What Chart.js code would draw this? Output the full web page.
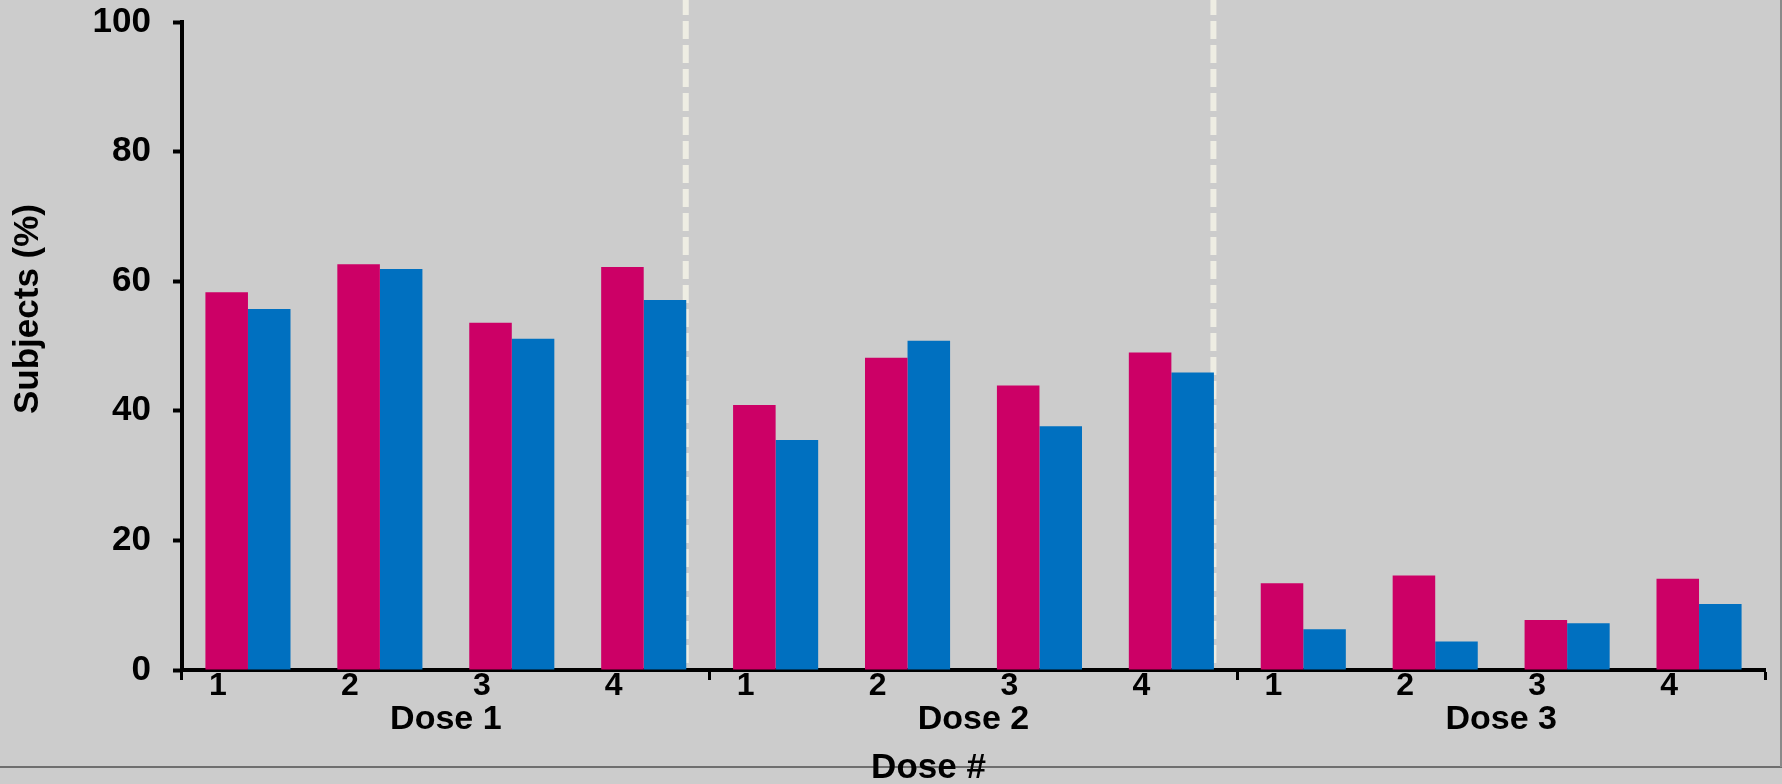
<!DOCTYPE html>
<html>
<head>
<meta charset="utf-8">
<script src="https://cdn.jsdelivr.net/npm/chart.js@4/dist/chart.umd.min.js"></script>
<style>
html, body { margin: 0; padding: 0; background: #cccccc; }
</style>
</head>
<body>
<canvas id="chart" width="1782" height="784"></canvas>
<script>
// chart values
var doseLabels = ['Dose 1', 'Dose 2', 'Dose 3'];
var visitLabels = ['1', '2', '3', '4', '1', '2', '3', '4', '1', '2', '3', '4'];
var pinkValues = [58.3, 62.6, 53.6, 62.2, 40.9, 48.2, 43.9, 49.0, 13.4, 14.6, 7.7, 14.1];
var blueValues = [55.7, 61.9, 51.1, 57.1, 35.5, 50.8, 37.6, 45.9, 6.3, 4.4, 7.2, 10.2];
var yTickValues = [0, 20, 40, 60, 80, 100];
var yTitle = 'Subjects (%)';
var xTitle = 'Dose #';

var FONT = '"Liberation Sans", Arial, sans-serif';

// grey page, bottom rule, right rule, group labels, titles, dashed dividers
var decorPlugin = {
    id: 'decor',
    beforeDraw: function(chart) {
        var c = chart.ctx;
        c.save();
        c.fillStyle = '#cccccc';
        c.fillRect(0, 0, chart.width, chart.height);
        c.restore();
    },
    beforeDatasetsDraw: function(chart) {
        // dashed dividers sit behind the last bar of dose 1 and dose 2
        var c = chart.ctx;
        var meta = chart.getDatasetMeta(1);
        var area = chart.chartArea;
        c.save();
        c.strokeStyle = '#eeede3';
        c.lineWidth = 6;
        c.setLineDash([18, 6]);
        c.lineDashOffset = 3;
        [3, 7].forEach(function(i) {
            var bar = meta.data[i];
            var x = bar.x + bar.width / 2 - 0.5;
            c.beginPath();
            c.moveTo(x, 0);
            c.lineTo(x, area.bottom - 2);
            c.stroke();
        });
        c.restore();
    },
    afterDraw: function(chart) {
        var c = chart.ctx;
        var xs = chart.scales.x;
        var area = chart.chartArea;
        c.save();
        // frame lines
        c.strokeStyle = '#6e6e6e';
        c.lineWidth = 2;
        c.beginPath();
        c.moveTo(0, 767);
        c.lineTo(chart.width, 767);
        c.stroke();
        c.strokeStyle = '#8a8a8a';
        c.beginPath();
        c.moveTo(chart.width - 1, 0);
        c.lineTo(chart.width - 1, 767);
        c.stroke();

        c.fillStyle = '#000';
        c.font = 'bold 34px ' + FONT;
        c.textAlign = 'center';
        c.textBaseline = 'middle';
        doseLabels.forEach(function(lbl, g) {
            var x = (xs.getPixelForValue(g * 4) + xs.getPixelForValue(g * 4 + 3)) / 2;
            c.fillText(lbl, x, area.bottom + 50);
        });
        c.font = 'bold 35px ' + FONT;
        c.fillText(xTitle, (area.left + area.right) / 2 - 45, area.bottom + 98);

        c.translate(28, (area.top + area.bottom) / 2 - 37);
        c.rotate(-Math.PI / 2);
        c.fillText(yTitle, 0, 0);
        c.restore();
    }
};

var ctx = document.getElementById('chart');

var myChart = new Chart(ctx, {
    type: 'bar',
    data: {
        labels: visitLabels,
        datasets: [
            { data: pinkValues, backgroundColor: '#cc0066', borderWidth: 0 },
            { data: blueValues, backgroundColor: '#0070c0', borderWidth: 0 }
        ]
    },
    options: {
        responsive: false,
        animation: false,
        devicePixelRatio: 1,
        layout: { padding: { top: 22, right: 17, left: 0, bottom: 0 } },
        datasets: { bar: { categoryPercentage: 0.645, barPercentage: 1.0 } },
        plugins: {
            legend: { display: false },
            tooltip: { enabled: false }
        },
        scales: {
            x: {
                grid: {
                    drawOnChartArea: false,
                    tickLength: 10,
                    tickWidth: 3,
                    tickColor: function(c) {
                        return (c.index === undefined || c.index % 4 === 0) ? '#000' : 'rgba(0,0,0,0)';
                    }
                },
                border: { color: '#000', width: 4 },
                ticks: {
                    color: '#000',
                    font: { family: FONT, size: 32, weight: 'bold' },
                    labelOffset: -30,
                    padding: -13,
                    maxRotation: 0,
                    autoSkip: false
                },
                afterFit: function(scale) {
                    scale.height = 114;
                    scale.paddingLeft = 0;
                    scale.paddingRight = 0;
                }
            },
            y: {
                min: 0,
                max: 100,
                afterBuildTicks: function(scale) {
                    scale.ticks = yTickValues.map(function(v) { return { value: v }; });
                },
                grid: {
                    drawOnChartArea: false,
                    tickLength: 9,
                    tickWidth: 4,
                    tickColor: '#000'
                },
                border: { color: '#000', width: 4 },
                ticks: {
                    color: '#000',
                    font: { family: FONT, size: 35, weight: 'bold' },
                    padding: 22
                },
                afterFit: function(scale) {
                    scale.width = 182;
                    scale.paddingTop = 0;
                    scale.paddingBottom = 0;
                }
            }
        }
    },
    plugins: [decorPlugin]
});
</script>
</body>
</html>
